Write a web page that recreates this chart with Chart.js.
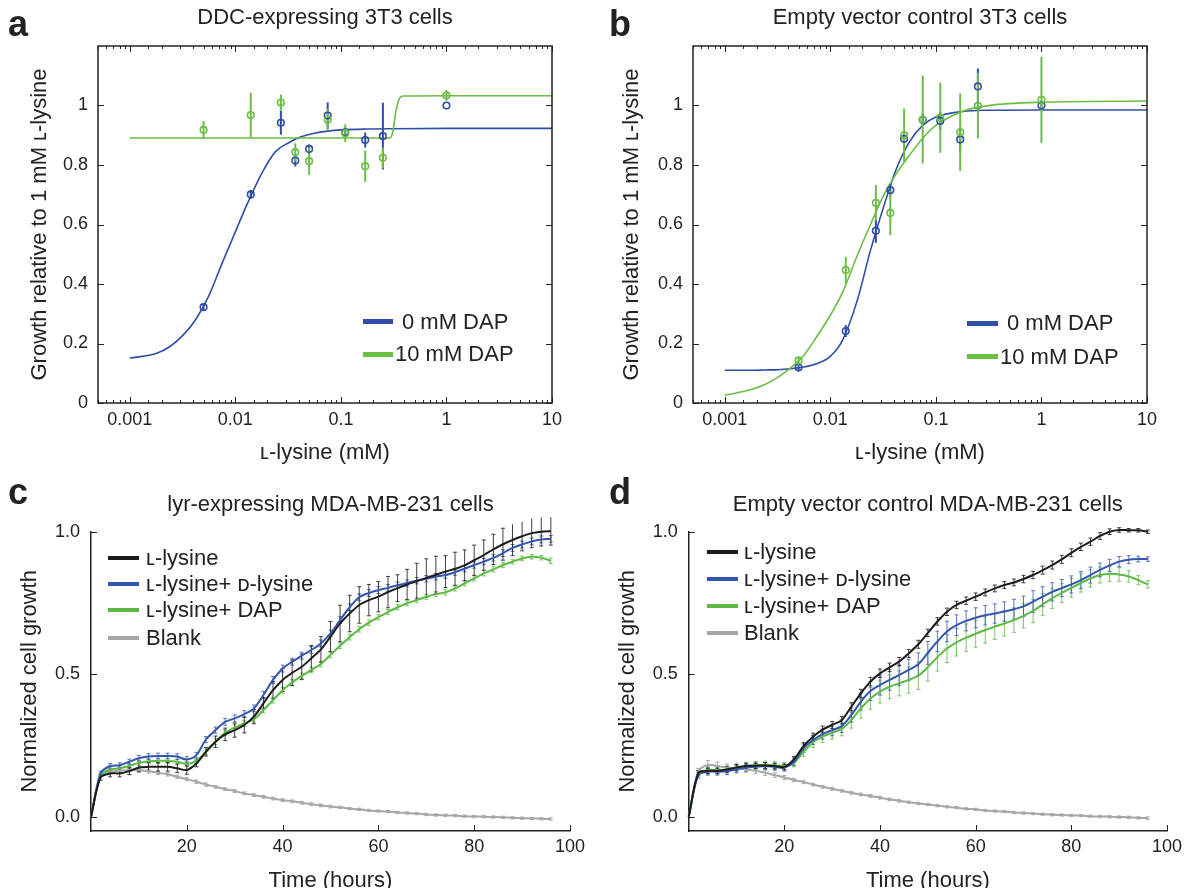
<!DOCTYPE html>
<html>
<head>
<meta charset="utf-8">
<script src="https://cdn.jsdelivr.net/npm/chart.js@4.4.1/dist/chart.umd.min.js"></script>
<style>
  body { margin: 0; width: 1191px; height: 888px; overflow: hidden; position: relative; background: #fff;
         font-family: 'Liberation Sans', Arial, 'DejaVu Sans', sans-serif; color: #222; }
  canvas { position: absolute; }
  .tag { position: absolute; font-weight: bold; font-size: 36px; line-height: 1; }
  .key { position: absolute; height: 5px; }
  .lbl { position: absolute; font-size: 22px; line-height: 26px; white-space: nowrap; }
</style>
</head>
<body>
<canvas id="ca" width="595" height="470" style="left:0;top:0"></canvas>
<canvas id="cb" width="596" height="470" style="left:595px;top:0"></canvas>
<canvas id="cc" width="595" height="430" style="left:0;top:468px"></canvas>
<canvas id="cd" width="596" height="430" style="left:595px;top:468px"></canvas>

<div class="tag" style="left:8px;top:6px">a</div>
<div class="tag" style="left:609px;top:6px">b</div>
<div class="tag" style="left:8px;top:474px">c</div>
<div class="tag" style="left:609px;top:474px">d</div>

<!-- legends -->
<div class="key" style="left:363px;top:319px;width:30px;background:#2f4ea5"></div>
<div class="lbl" style="left:402px;top:309px">0 mM DAP</div>
<div class="key" style="left:363px;top:352px;width:30px;background:#6abd45"></div>
<div class="lbl" style="left:395px;top:341px">10 mM DAP</div>

<div class="key" style="left:967px;top:321px;width:31px;background:#2f4ea5"></div>
<div class="lbl" style="left:1007px;top:310px">0 mM DAP</div>
<div class="key" style="left:967px;top:354px;width:31px;background:#6abd45"></div>
<div class="lbl" style="left:1000px;top:344px">10 mM DAP</div>

<div class="key" style="left:108px;top:556px;width:31px;height:4px;background:#1c1c1c"></div>
<div class="lbl" style="left:146px;top:545px">ʟ-lysine</div>
<div class="key" style="left:108px;top:582px;width:31px;height:4px;background:#3556b0"></div>
<div class="lbl" style="left:146px;top:571px">ʟ-lysine+ ᴅ-lysine</div>
<div class="key" style="left:108px;top:608px;width:31px;height:4px;background:#5cba44"></div>
<div class="lbl" style="left:146px;top:597px">ʟ-lysine+ DAP</div>
<div class="key" style="left:108px;top:636px;width:31px;height:4px;background:#a6a6a6"></div>
<div class="lbl" style="left:146px;top:625px">Blank</div>

<div class="key" style="left:707px;top:550px;width:31px;height:4px;background:#1c1c1c"></div>
<div class="lbl" style="left:744px;top:539px">ʟ-lysine</div>
<div class="key" style="left:707px;top:577px;width:31px;height:4px;background:#3556b0"></div>
<div class="lbl" style="left:744px;top:566px">ʟ-lysine+ ᴅ-lysine</div>
<div class="key" style="left:707px;top:604px;width:31px;height:4px;background:#5cba44"></div>
<div class="lbl" style="left:744px;top:593px">ʟ-lysine+ DAP</div>
<div class="key" style="left:707px;top:631px;width:31px;height:4px;background:#a6a6a6"></div>
<div class="lbl" style="left:744px;top:620px">Blank</div>

<script>
// ---- panels a and b: growth vs L-lysine (mM) ----
const lysine = [0.005, 0.014, 0.027, 0.037, 0.05, 0.075, 0.11, 0.17, 0.25, 1];
const aBlue = [0.322, 0.701, 0.942, 0.815, 0.854, 0.966, 0.91, 0.884, 0.897, 1.0];
const aBlueErr = [0.012, 0.015, 0.04, 0.02, 0.015, 0.045, 0.015, 0.025, 0.112, 0];
const aGreen = [0.918, 0.968, 1.01, 0.843, 0.813, 0.952, 0.907, 0.796, 0.824, 1.034];
const aGreenErr = [0.03, 0.075, 0.027, 0.03, 0.046, 0.037, 0.03, 0.053, 0.035, 0.018];
const bBlue = [0.119, 0.242, 0.579, 0.716, 0.888, 0.952, 0.948, 0.886, 1.064, 1.0];
const bBlueErr = [0.008, 0.02, 0.04, 0.02, 0.015, 0.02, 0.03, 0.04, 0.06, 0.01];
const bGreen = [0.143, 0.447, 0.673, 0.639, 0.9, 0.953, 0.959, 0.91, 0.999, 1.019];
const bGreenErr = [0.012, 0.045, 0.06, 0.075, 0.09, 0.148, 0.118, 0.13, 0.11, 0.145];

// fitted curves
const fitX = [0.001, 0.0018, 0.0024, 0.0032, 0.0042, 0.0056, 0.0075, 0.01, 0.013, 0.018,
              0.024, 0.032, 0.042, 0.056, 0.075, 0.1, 0.18, 0.32, 1, 10];
const aBlueFit = [0.151, 0.167, 0.19, 0.228, 0.28, 0.36, 0.47, 0.575, 0.67, 0.775,
                  0.845, 0.875, 0.895, 0.907, 0.914, 0.918, 0.921, 0.922, 0.923, 0.923];
const aGreenFitX = [0.001, 0.29, 0.31, 0.33, 0.355, 0.39, 1, 10];
const aGreenFit = [0.891, 0.891, 0.91, 0.975, 1.02, 1.032, 1.033, 1.033];
const bBlueFit = [0.11, 0.11, 0.111, 0.112, 0.115, 0.121, 0.133, 0.157, 0.21, 0.345,
                  0.513, 0.66, 0.785, 0.877, 0.933, 0.961, 0.98, 0.984, 0.985, 0.985];
const bGreenFit = [0.026, 0.046, 0.062, 0.087, 0.118, 0.16, 0.225, 0.295, 0.37, 0.496,
                   0.6, 0.698, 0.77, 0.832, 0.89, 0.933, 0.981, 1.0, 1.011, 1.015];
const growthTicksAB = [0, 0.2, 0.4, 0.6, 0.8, 1];

// ---- panels c and d: growth over time ----
const hours = [0, 2, 4, 6, 8, 10, 12, 14, 16, 18, 20, 22, 24, 26, 28, 30, 32, 34, 36, 38, 40, 42, 44, 46, 48,
               50, 52, 54, 56, 58, 60, 62, 64, 66, 68, 70, 72, 74, 76, 78, 80, 82, 84, 86, 88, 90, 92, 94, 96];
const timeTicks = [20, 40, 60, 80, 100];
const growthTicksCD = [0, 0.5, 1];

const cLys = [0, .138, .152, .152, .16, .173, .175, .175, .175, .17, .164, .187, .228, .263, .289, .304, .322,
              .351, .398, .444, .48, .505, .526, .556, .587, .632, .678, .713, .743, .76, .772, .788, .802,
              .815, .826, .838, .849, .86, .87, .882, .9, .918, .938, .956, .971, .984, .995, 1.0, 1.002];
const cLysD = [0, .152, .178, .181, .193, .205, .211, .213, .213, .211, .201, .216, .271, .304, .333, .345, .36,
               .38, .427, .48, .52, .544, .565, .585, .608, .643, .69, .735, .77, .785, .795, .803, .812,
               .82, .828, .835, .842, .848, .858, .87, .883, .895, .908, .925, .943, .955, .966, .973, .975];
const cLysDap = [0, .146, .166, .17, .178, .189, .195, .196, .196, .193, .185, .196, .228, .263, .295, .313, .327,
                 .342, .374, .409, .444, .471, .494, .515, .536, .568, .6, .63, .658, .681, .7, .718, .735,
                 .749, .76, .772, .781, .787, .801, .819, .836, .854, .868, .883, .895, .906, .912, .909, .898];
const cBlank = [0, .146, .158, .161, .164, .164, .16, .154, .149, .14, .132, .123, .113, .105, .097, .09, .082,
                .076, .07, .064, .058, .054, .049, .044, .04, .036, .033, .029, .026, .022, .02, .018, .015,
                .013, .011, .008, .006, .005, .004, .002, .001, 0, -.001, -.002, -.004, -.005, -.006, -.007, -.008];
const cLysErr = [0, .01, .012, .012, .012, .015, .015, .015, .015, .015, .015, .012, .015, .02, .022, .025, .028,
                 .025, .02, .03, .04, .045, .045, .045, .045, .053, .064, .064, .064, .055, .053, .055, .047,
                 .053, .063, .067, .065, .056, .058, .054, .053, .053, .053, .056, .055, .051, .051, .05, .049];
const cLysDErr = [0, .008, .009, .008, .009, .01, .01, .01, .01, .01, .01, .01, .01, .011, .012, .012, .012,
                  .012, .012, .012, .012, .012, .012, .012, .012, .012, .012, .012, .012, .012, .012, .012, .011,
                  .011, .011, .011, .011, .011, .011, .011, .011, .011, .011, .012, .012, .012, .012, .012, .012];
const cLysDapErr = [0, .007, .008, .008, .008, .009, .009, .009, .009, .009, .009, .009, .009, .01, .01, .01, .01,
                    .01, .01, .01, .01, .01, .01, .01, .01, .01, .01, .01, .01, .01, .009, .009, .009,
                    .009, .009, .009, .009, .009, .009, .009, .009, .009, .009, .009, .008, .008, .008, .008, .01];
const cBlankErr = [0, .006, .007, .007, .007, .007, .007, .006, .006, .006, .006, .006, .006, .005, .005, .005, .005,
                   .005, .005, .005, .005, .005, .005, .005, .005, .005, .004, .004, .004, .004, .004, .004, .004,
                   .004, .004, .004, .004, .004, .004, .004, .004, .004, .004, .004, .004, .004, .004, .004, .004];

const dLys = [0, .154, .161, .161, .166, .173, .178, .179, .18, .178, .175, .201, .248, .281, .306, .322, .339,
              .386, .433, .474, .503, .524, .544, .573, .605, .645, .685, .719, .743, .758, .772, .787, .801,
              .813, .822, .834, .848, .865, .883, .903, .926, .947, .965, .985, 1.0, 1.006, 1.005, 1.005, 1.0];
const dLysD = [0, .146, .158, .158, .16, .166, .172, .175, .178, .175, .172, .193, .24, .269, .29, .304, .318,
               .357, .404, .441, .462, .48, .497, .515, .535, .575, .615, .65, .672, .687, .698, .707, .713,
               .72, .728, .738, .755, .772, .789, .802, .815, .83, .848, .866, .882, .895, .902, .904, .904];
const dLysDap = [0, .15, .164, .164, .166, .173, .178, .181, .182, .181, .178, .189, .228, .261, .281, .295, .308,
                 .339, .38, .415, .439, .456, .468, .48, .495, .525, .56, .59, .612, .628, .642, .655, .667,
                 .678, .69, .705, .722, .745, .766, .785, .803, .82, .836, .848, .852, .85, .843, .83, .815];
const dBlank = [0, .158, .182, .178, .172, .17, .167, .161, .154, .146, .138, .129, .122, .113, .105, .098, .091,
                .084, .078, .073, .067, .061, .056, .051, .047, .043, .039, .035, .032, .028, .026, .022, .02,
                .018, .015, .013, .011, .009, .007, .006, .005, .004, .002, .001, 0, -.001, -.002, -.004, -.005];
const dLysErr = [0, .008, .01, .01, .01, .01, .01, .01, .01, .01, .01, .01, .012, .012, .012, .012, .013,
                 .014, .014, .015, .015, .015, .015, .014, .014, .013, .013, .013, .013, .013, .013, .012, .012,
                 .012, .012, .013, .013, .014, .014, .014, .014, .013, .013, .012, .01, .008, .006, .006, .006];
const dLysDErr = [0, .01, .012, .012, .012, .012, .012, .012, .012, .012, .012, .013, .015, .016, .018, .02, .022,
                  .025, .03, .033, .035, .036, .036, .038, .04, .04, .036, .036, .036, .035, .035, .034, .034,
                  .034, .035, .036, .038, .035, .032, .03, .03, .03, .028, .024, .021, .018, .014, .01, .008];
const dLysDapErr = [0, .01, .012, .012, .012, .013, .013, .013, .013, .013, .013, .014, .016, .018, .02, .022, .024,
                    .028, .034, .038, .04, .042, .044, .046, .048, .049, .049, .049, .048, .048, .047, .046, .045,
                    .044, .043, .042, .041, .038, .036, .034, .033, .032, .03, .028, .026, .024, .02, .016, .013];
const dBlankErr = [0, .012, .015, .014, .013, .012, .011, .01, .009, .008, .007, .006, .006, .005, .005, .005, .005,
                   .005, .005, .005, .005, .005, .005, .004, .004, .004, .004, .004, .004, .004, .004, .004, .004,
                   .004, .004, .004, .004, .004, .004, .004, .004, .004, .004, .004, .004, .004, .004, .004, .004];

const BLUE = '#2f4ea5', GREEN = '#6abd45';
const C_BLACK = '#1c1c1c', C_BLUE = '#3556b0', C_GREEN = '#5cba44', C_GRAY = '#a6a6a6';
const FONT = "'Liberation Sans', Arial, 'DejaVu Sans', sans-serif";

Chart.defaults.font.family = FONT;
Chart.defaults.color = '#222';
Chart.defaults.animation = false;

const pts = (xs, ys) => xs.map((x, i) => ({x: x, y: ys[i]}));
// each error bar is two points followed by a gap
const bars = (xs, ys, es) => xs.flatMap((x, i) => es[i] > 0
  ? [{x: x, y: ys[i] - es[i]}, {x: x, y: ys[i] + es[i]}, {x: x, y: null}] : []);
const isDecade = v => Math.abs(Math.log10(v) - Math.round(Math.log10(v))) < 1e-6;

// inward tick marks (and a box for a/b)
const frame = {
  id: 'frame',
  afterDatasetsDraw(chart, args, o) {
    const {ctx, chartArea: a, scales: {x, y}} = chart;
    ctx.save();
    ctx.strokeStyle = '#222';
    ctx.lineWidth = 1;
    ctx.beginPath();
    x.ticks.forEach(t => {
      const p = Math.round(x.getPixelForValue(t.value)) + 0.5;
      const len = o.log && !isDecade(t.value) ? 3 : 6;
      ctx.moveTo(p, a.bottom); ctx.lineTo(p, a.bottom - len);
      if (o.box) { ctx.moveTo(p, a.top); ctx.lineTo(p, a.top + len); }
    });
    y.ticks.forEach(t => {
      const p = Math.round(y.getPixelForValue(t.value)) + 0.5;
      ctx.moveTo(a.left, p); ctx.lineTo(a.left + 6, p);
      if (o.box) { ctx.moveTo(a.right, p); ctx.lineTo(a.right - 6, p); }
    });
    ctx.stroke();
    if (o.box) {
      ctx.lineWidth = 1.5;
      ctx.strokeRect(a.left, a.top, a.width, a.height);
    }
    ctx.restore();
  }
};

function doseChart(id, title, blue, blueErr, green, greenErr, blueFit, greenFitX, greenFit, yTitlePad, right) {
  return new Chart(document.getElementById(id), {
    type: 'scatter',
    plugins: [frame],
    data: {
      datasets: [
        {data: pts(lysine, green), pointStyle: 'circle', pointRadius: 3.3, borderWidth: 1.6,
         borderColor: GREEN, backgroundColor: 'rgba(0,0,0,0)', order: 1},
        {data: pts(lysine, blue), pointStyle: 'circle', pointRadius: 3.3, borderWidth: 1.6,
         borderColor: BLUE, backgroundColor: 'rgba(0,0,0,0)', order: 2},
        {data: bars(lysine, green, greenErr), showLine: true, pointRadius: 0, borderWidth: 2,
         borderColor: GREEN, order: 3},
        {data: bars(lysine, blue, blueErr), showLine: true, pointRadius: 0, borderWidth: 2,
         borderColor: BLUE, order: 4},
        {data: pts(greenFitX, greenFit), showLine: true, pointRadius: 0, borderWidth: 1.6,
         borderColor: GREEN, cubicInterpolationMode: 'monotone', order: 5},
        {data: pts(fitX, blueFit), showLine: true, pointRadius: 0, borderWidth: 1.6,
         borderColor: BLUE, cubicInterpolationMode: 'monotone', order: 6}
      ]
    },
    options: {
      responsive: false,
      events: [],
      layout: {padding: {left: 0, right: right, top: 0, bottom: 0}},
      plugins: {
        legend: {display: false},
        tooltip: {enabled: false},
        title: {display: true, text: title, fullSize: false, color: '#222',
                font: {size: 22, weight: 'normal'}, padding: {top: 4.8, bottom: 14.8}},
        frame: {box: true, log: true}
      },
      scales: {
        x: {
          type: 'logarithmic', min: 0.0005, max: 10,
          grid: {display: false, drawTicks: false}, border: {display: false},
          ticks: {autoSkip: false, maxRotation: 0, padding: 6, font: {size: 18},
                  callback: v => isDecade(v) ? String(v) : ''},
          title: {display: true, text: 'ʟ-lysine (mM)', font: {size: 22}, padding: {top: 11.8}},
          afterFit: s => { s.height = 67; }
        },
        y: {
          min: 0, max: 1.2,
          grid: {display: false, drawTicks: false}, border: {display: false},
          afterBuildTicks: s => { s.ticks = growthTicksAB.map(v => ({value: v})); },
          ticks: {padding: 10, font: {size: 18}, callback: v => String(Math.round(v * 10) / 10)},
          title: {display: true, text: 'Growth relative to 1 mM ʟ-lysine', font: {size: 22},
                  padding: {top: yTitlePad}},
          afterFit: s => { s.width = 98; }
        }
      }
    }
  });
}

function line(ys, color, order) {
  return {data: pts(hours, ys), showLine: true, pointRadius: 0, borderWidth: 2, borderColor: color,
          tension: 0.3, clip: false, order: order};
}
function errs(ys, es, color, order) {
  return {data: bars(hours, ys, es), showLine: true, borderWidth: 1, borderColor: color,
          pointStyle: 'line', pointRadius: 2, pointBorderWidth: 1, clip: false, order: order};
}

function timeChart(id, title, lys, lysD, lysDap, blank, lysErr, lysDErr, lysDapErr, blankErr, yWidth, yTitlePad, right) {
  return new Chart(document.getElementById(id), {
    type: 'scatter',
    plugins: [frame],
    data: {
      datasets: [
        line(lys, C_BLACK, 1), line(lysD, C_BLUE, 2), line(lysDap, C_GREEN, 3), line(blank, C_GRAY, 4),
        errs(lys, lysErr, 'rgba(30,30,30,0.85)', 5), errs(lysD, lysDErr, 'rgba(53,86,176,0.8)', 6),
        errs(lysDap, lysDapErr, 'rgba(92,186,68,0.8)', 7), errs(blank, blankErr, 'rgba(150,150,150,0.8)', 8)
      ]
    },
    options: {
      responsive: false,
      events: [],
      layout: {padding: {left: 0, right: right, top: 0, bottom: 0}},
      plugins: {
        legend: {display: false},
        tooltip: {enabled: false},
        title: {display: true, text: title, fullSize: false, color: '#222',
                font: {size: 22, weight: 'normal'}, padding: {top: 23.8, bottom: 13.5}},
        frame: {box: false, log: false}
      },
      scales: {
        x: {
          min: 0, max: 100,
          grid: {display: false, drawTicks: false}, border: {display: true, color: '#222', width: 1.5},
          afterBuildTicks: s => { s.ticks = timeTicks.map(v => ({value: v})); },
          ticks: {autoSkip: false, maxRotation: 0, padding: 5, font: {size: 18}},
          title: {display: true, text: 'Time (hours)', font: {size: 22}, padding: {top: 7.8}},
          afterFit: s => { s.height = 67; }
        },
        y: {
          min: -0.05, max: 1.0,
          grid: {display: false, drawTicks: false}, border: {display: true, color: '#222', width: 1.5},
          afterBuildTicks: s => { s.ticks = growthTicksCD.map(v => ({value: v})); },
          ticks: {padding: 11, font: {size: 18}, callback: v => v.toFixed(1)},
          title: {display: true, text: 'Normalized cell growth', font: {size: 22}, padding: {top: yTitlePad}},
          afterFit: s => { s.width = yWidth; }
        }
      }
    }
  });
}

doseChart('ca', 'DDC-expressing 3T3 cells', aBlue, aBlueErr, aGreen, aGreenErr,
          aBlueFit, aGreenFitX, aGreenFit, 26.8, 43);
doseChart('cb', 'Empty vector control 3T3 cells', bBlue, bBlueErr, bGreen, bGreenErr,
          bBlueFit, fitX, bGreenFit, 23.8, 44);
timeChart('cc', 'lyr-expressing MDA-MB-231 cells', cLys, cLysD, cLysDap, cBlank,
          cLysErr, cLysDErr, cLysDapErr, cBlankErr, 91, 16.8, 25);
timeChart('cd', 'Empty vector control MDA-MB-231 cells', dLys, dLysD, dLysDap, dBlank,
          dLysErr, dLysDErr, dLysDapErr, dBlankErr, 93.7, 19.8, 24);
</script>
</body>
</html>
